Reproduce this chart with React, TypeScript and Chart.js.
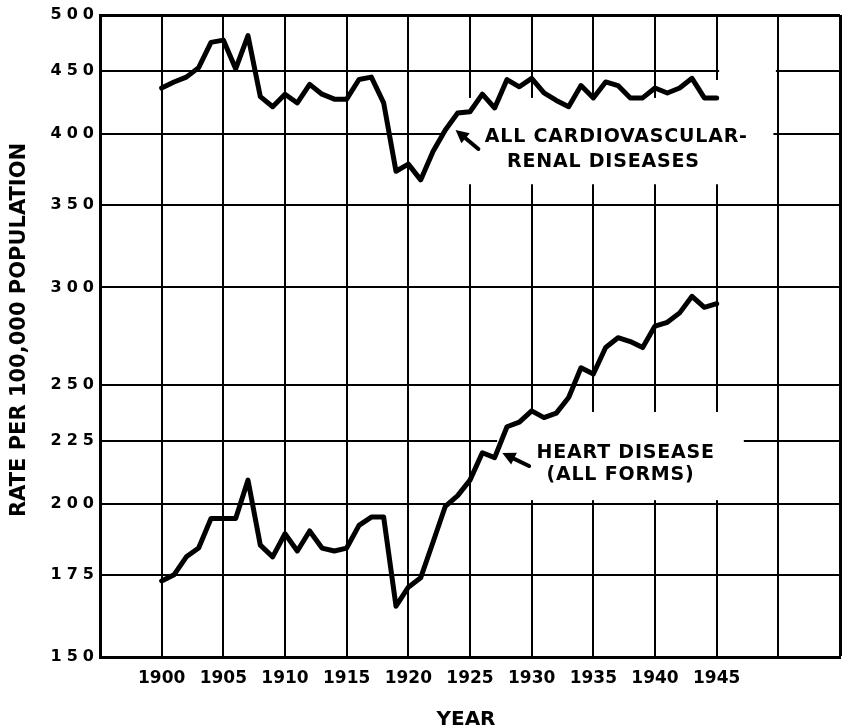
import React, { useEffect, useRef } from 'react';
import { Chart, registerables, LogarithmicScale } from 'chart.js';

Chart.register(...registerables);

// ---------------- DATA ----------------
const years = [
  1900, 1901, 1902, 1903, 1904, 1905, 1906, 1907, 1908, 1909,
  1910, 1911, 1912, 1913, 1914, 1915, 1916, 1917, 1918, 1919,
  1920, 1921, 1922, 1923, 1924, 1925, 1926, 1927, 1928, 1929,
  1930, 1931, 1932, 1933, 1934, 1935, 1936, 1937, 1938, 1939,
  1940, 1941, 1942, 1943, 1944, 1945,
];

const cardiovascularRenal = [
  436, 441, 445, 453, 475, 477, 452, 481, 429, 421,
  431, 424, 439, 431, 427, 427, 443, 445, 424, 373,
  378, 367, 387, 403, 416, 417, 431, 420, 443, 437,
  444, 432, 426, 421, 438, 428, 441, 438, 428, 428,
  436, 432, 436, 444, 428, 428,
];

const heartDisease = [
  173, 175, 181, 184, 194.5, 194.5, 194.5, 209, 185, 181,
  189, 183, 190, 184, 183, 184, 192, 195, 195, 165,
  171, 174, 186, 199, 203, 209, 220, 218, 231, 233,
  238, 235, 237, 244, 258, 255, 268, 273, 271, 268,
  279, 281, 286, 295, 289, 291,
];

const yTicks = [150, 175, 200, 225, 250, 300, 350, 400, 450, 500];
const xGridYears = [1895, 1900, 1905, 1910, 1915, 1920, 1925, 1930, 1935, 1940, 1945, 1950, 1955];
const xLabelYears = [1900, 1905, 1910, 1915, 1920, 1925, 1930, 1935, 1940, 1945];

const yTitle = 'RATE PER 100,000 POPULATION';
const xTitle = 'YEAR';
const cardioLabel = ['ALL CARDIOVASCULAR-', 'RENAL DISEASES'];
const heartLabel = ['HEART DISEASE', '(ALL FORMS)'];

// ---------------- STYLE / LAYOUT ----------------
const FONT = "'DejaVu Sans', sans-serif";
const Y_TICK_SPACING = '5px';

class SpacedLogScale extends LogarithmicScale {
  static id = 'spacedLog';
  drawLabels(chartArea: any) {
    const ctx: any = this.ctx;
    const prev = ctx.letterSpacing;
    ctx.letterSpacing = Y_TICK_SPACING;
    super.drawLabels(chartArea);
    ctx.letterSpacing = prev;
  }
}
Chart.register(SpacedLogScale as any);

// annotation placement in data coordinates (year, rate)
const whiteouts = [
  { x0: 1922.95, x1: 1949.6, v0: 428, v1: 364 },
  { x0: 1945.2, x1: 1949.8, v0: 458, v1: 426 },
  { x0: 1944.5, x1: 1945.5, v0: 442.6, v1: 426 },
  { x0: 1927.2, x1: 1947.2, v0: 237.5, v1: 201.3 },
];
const cardioText = [
  { x: 1926.2, v: 394 },
  { x: 1928.0, v: 376 },
];
const heartText = [
  { x: 1930.4, v: 217.9 },
  { x: 1931.2, v: 209.1 },
];
const arrows = [
  { fx: 1925.68, fv: 388.9, tx: 1923.83, tv: 403 },
  { fx: 1929.79, fv: 214.6, tx: 1927.62, tv: 219.9 },
];

function drawArrow(ctx: CanvasRenderingContext2D, x0: number, y0: number, x1: number, y1: number) {
  const ang = Math.atan2(y1 - y0, x1 - x0);
  const headLen = 13;
  const headW = 6.5;
  const bx = x1 - headLen * Math.cos(ang);
  const by = y1 - headLen * Math.sin(ang);
  ctx.lineWidth = 4;
  ctx.lineCap = 'round';
  ctx.beginPath();
  ctx.moveTo(x0, y0);
  ctx.lineTo(bx + 2 * Math.cos(ang), by + 2 * Math.sin(ang));
  ctx.stroke();
  ctx.beginPath();
  ctx.moveTo(x1, y1);
  ctx.lineTo(bx + headW * Math.sin(ang), by - headW * Math.cos(ang));
  ctx.lineTo(bx - headW * Math.sin(ang), by + headW * Math.cos(ang));
  ctx.closePath();
  ctx.fill();
}

const annotationPlugin = {
  id: 'annotationPlugin',
  beforeDatasetsDraw(chart: any) {
    const { ctx, scales } = chart;
    const x = scales.x;
    const y = scales.y;
    ctx.save();
    ctx.fillStyle = '#ffffff';
    for (const b of whiteouts) {
      const px0 = x.getPixelForValue(b.x0);
      const px1 = x.getPixelForValue(b.x1);
      const py0 = y.getPixelForValue(b.v0);
      const py1 = y.getPixelForValue(b.v1);
      ctx.fillRect(Math.min(px0, px1), Math.min(py0, py1), Math.abs(px1 - px0), Math.abs(py1 - py0));
    }
    ctx.restore();
  },
  afterDatasetsDraw(chart: any) {
    const { ctx, scales } = chart;
    const x = scales.x;
    const y = scales.y;
    ctx.save();
    ctx.fillStyle = '#000';
    ctx.strokeStyle = '#000';
    for (const a of arrows) {
      drawArrow(ctx, x.getPixelForValue(a.fx), y.getPixelForValue(a.fv), x.getPixelForValue(a.tx), y.getPixelForValue(a.tv));
    }
    ctx.font = `bold 19px ${FONT}`;
    ctx.letterSpacing = '0.8px';
    ctx.textAlign = 'left';
    ctx.textBaseline = 'alphabetic';
    cardioLabel.forEach((t, i) => {
      ctx.fillText(t, x.getPixelForValue(cardioText[i].x), y.getPixelForValue(cardioText[i].v));
    });
    heartLabel.forEach((t, i) => {
      ctx.fillText(t, x.getPixelForValue(heartText[i].x), y.getPixelForValue(heartText[i].v));
    });
    ctx.letterSpacing = '0px';
    ctx.restore();
  },
  afterDraw(chart: any) {
    const { ctx, chartArea } = chart;
    ctx.save();
    ctx.fillStyle = '#000';
    ctx.font = `bold 20px ${FONT}`;
    ctx.textAlign = 'center';
    ctx.textBaseline = 'alphabetic';
    ctx.fillText(xTitle, (chartArea.left + chartArea.right) / 2 - 4, chartArea.bottom + 68);
    ctx.font = `bold 21px ${FONT}`;
    ctx.translate(24.5, (chartArea.top + chartArea.bottom) / 2 - 6);
    ctx.rotate(-Math.PI / 2);
    ctx.fillText(yTitle, 0, 0);
    ctx.restore();
  },
};

export default function App() {
  const canvasRef = useRef<HTMLCanvasElement | null>(null);

  useEffect(() => {
    const canvas = canvasRef.current;
    if (!canvas) return;
    const chart = new Chart(canvas, {
      type: 'line',
      data: {
        datasets: [
          {
            label: 'All cardiovascular-renal diseases',
            data: years.map((yr, i) => ({ x: yr, y: cardiovascularRenal[i] })),
            borderColor: '#000',
            borderWidth: 5,
            pointRadius: 0,
            tension: 0,
            borderCapStyle: 'round',
            borderJoinStyle: 'round',
            fill: false,
          },
          {
            label: 'Heart disease (all forms)',
            data: years.map((yr, i) => ({ x: yr, y: heartDisease[i] })),
            borderColor: '#000',
            borderWidth: 5,
            pointRadius: 0,
            tension: 0,
            borderCapStyle: 'round',
            borderJoinStyle: 'round',
            fill: false,
          },
        ],
      },
      options: {
        responsive: false,
        animation: false,
        devicePixelRatio: 1,
        layout: { padding: { top: 15, right: 6, left: 0, bottom: 0 } },
        plugins: {
          legend: { display: false },
          tooltip: { enabled: false },
        },
        scales: {
          x: {
            type: 'linear',
            min: 1895,
            max: 1955,
            afterBuildTicks: (scale: any) => {
              scale.ticks = xGridYears.map((v) => ({ value: v }));
            },
            afterFit: (scale: any) => {
              scale.height = 69;
            },
            grid: {
              color: '#000',
              lineWidth: (c: any) => (c.tick && c.tick.value === 1955 ? 3 : 2),
              drawTicks: false,
            },
            border: { color: '#000', width: 3 },
            ticks: {
              color: '#000',
              font: { family: FONT, size: 17, weight: 'bold' },
              padding: 11,
              maxRotation: 0,
              autoSkip: false,
              callback: (v: any) => (xLabelYears.includes(Number(v)) ? String(v) : ''),
            },
          },
          y: {
            type: 'spacedLog' as any,
            min: 150,
            max: 500,
            afterBuildTicks: (scale: any) => {
              scale.ticks = yTicks.map((v) => ({ value: v }));
            },
            afterFit: (scale: any) => {
              scale.width = 100;
            },
            grid: {
              color: '#000',
              lineWidth: (c: any) => (c.tick && c.tick.value === 500 ? 3 : 2),
              drawTicks: false,
            },
            border: { color: '#000', width: 3 },
            ticks: {
              color: '#000',
              font: { family: FONT, size: 16, weight: 'bold' },
              padding: 1,
              autoSkip: false,
              callback: (v: any) => String(v),
            },
          },
        },
      } as any,
      plugins: [annotationPlugin],
    });
    return () => chart.destroy();
  }, []);

  return (
    <canvas
      ref={canvasRef}
      width={851}
      height={726}
      style={{ position: 'absolute', left: 0, top: 0, width: 851, height: 726 }}
    />
  );
}
